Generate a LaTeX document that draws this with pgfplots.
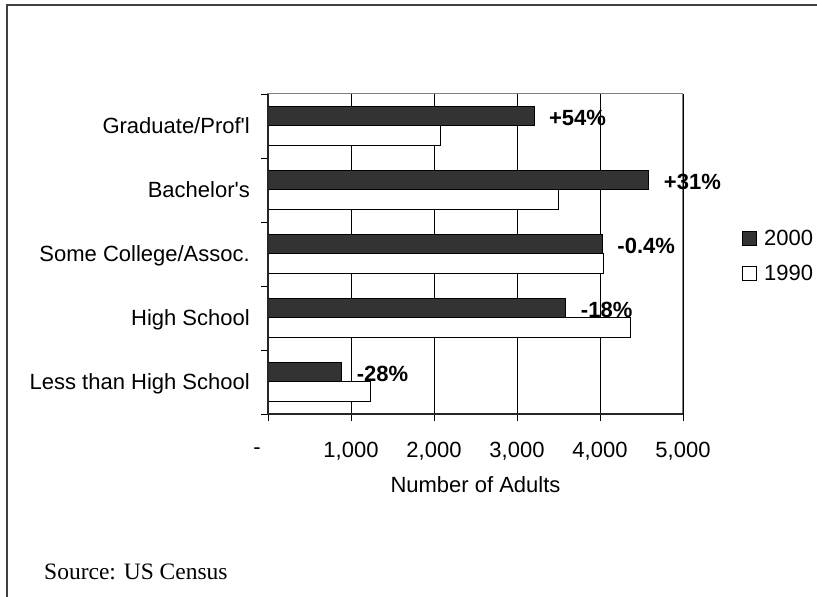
\documentclass[border=0pt]{standalone}
\usepackage{pgfplots}
\pgfplotsset{compat=1.18}
\usepackage{pgfplotstable}
\usepackage{fontspec}
\setmainfont{Liberation Sans}
\newfontfamily\timesfont{Liberation Serif}
\definecolor{darkbar}{HTML}{333333}
\newcommand\lblfont{\fontsize{22}{26}\selectfont}
\pgfplotstableread{
y v2000 v1990 lab
1 890 1237 -28\%
2 3590 4370 -18\%
3 4030 4046 -0.4\%
4 4590 3505 +31\%
5 3205 2075 +54\%
}\edudata
\begin{document}
\begin{tikzpicture}[x=1pt,y=1pt,font=\lblfont]
\useasboundingbox (0pt,0pt) rectangle (817pt,597pt);
\draw[black!75,line width=1.6pt] (7pt,-20pt) -- (7pt,592pt) -- (840pt,592pt);
\begin{axis}[
  at={(268pt,183pt)}, anchor=south west,
  scale only axis, width=415pt, height=320pt,
  clip=false,
  xmin=0, xmax=5000, ymin=0.5, ymax=5.5,
  xtick={0,1000,2000,3000,4000,5000},
  xticklabels={{-\kern22pt},{1,000},{2,000},{3,000},{4,000},{5,000}},
  xticklabel style={font=\lblfont, anchor=center, yshift=-30pt},
  xtick pos=bottom, ytick pos=left,
  ytick={0.5,1.5,2.5,3.5,4.5,5.5},
  yticklabels={},
  extra y ticks={1,2,3,4,5},
  extra y tick labels={Less than High School,High School,Some College/Assoc.,Bachelor\textquotesingle s,Graduate/Prof\textquotesingle l},
  extra y tick style={major tick length=0pt, ytick pos=left, yticklabel style={font=\lblfont, anchor=east, inner sep=0pt, xshift=-18pt, text height=15.5pt, text depth=0pt}},
  tick align=outside,
  major tick length=7pt,
  tick style={black, line width=0.8pt},
  xmajorgrids,
  grid style={black, line width=0.8pt},
  axis line style={gray, line width=1pt},
  xlabel={Number of Adults},
  xlabel style={font=\lblfont, at={(axis description cs:0.5,-0.222)}, anchor=center},
  legend style={draw=none, fill=none, at={(1.135,0.495)}, anchor=west,
    font=\lblfont, nodes={inner sep=0pt, text height=15.5pt, text depth=0pt},
    row sep=19.5pt, column sep=7pt},
]
\addplot[xbar, bar width=19.2pt, bar shift=9.6pt, fill=darkbar, draw=black, line width=1pt,
  nodes near coords, point meta=explicit symbolic,
  nodes near coords style={font=\lblfont\bfseries, anchor=west, inner sep=0pt, xshift=14.5pt, yshift=8.6pt, text height=15.5pt, text depth=0pt},
  legend image code/.code={\draw[fill=darkbar, draw=black, line width=1pt] (0pt,-7pt) rectangle (14pt,7pt);}]
  table[x=v2000, y=y, meta=lab] {\edudata};
\addlegendentry{2000}
\addplot[xbar, bar width=19.2pt, bar shift=-9.6pt, fill=white, draw=black, line width=1pt,
  legend image code/.code={\draw[fill=white, draw=black, line width=1pt] (0pt,-7pt) rectangle (14pt,7pt);}]
  table[x=v1990, y=y] {\edudata};
\addlegendentry{1990}
\draw[black!85, line width=1.3pt] (rel axis cs:0,1) -- (rel axis cs:0,0) -- (rel axis cs:1,0);
\end{axis}
\node[anchor=west, inner sep=0pt, font=\timesfont\fontsize{23.5}{28}\selectfont] at (44pt,25pt) {Source: US Census};
\end{tikzpicture}
\end{document}
